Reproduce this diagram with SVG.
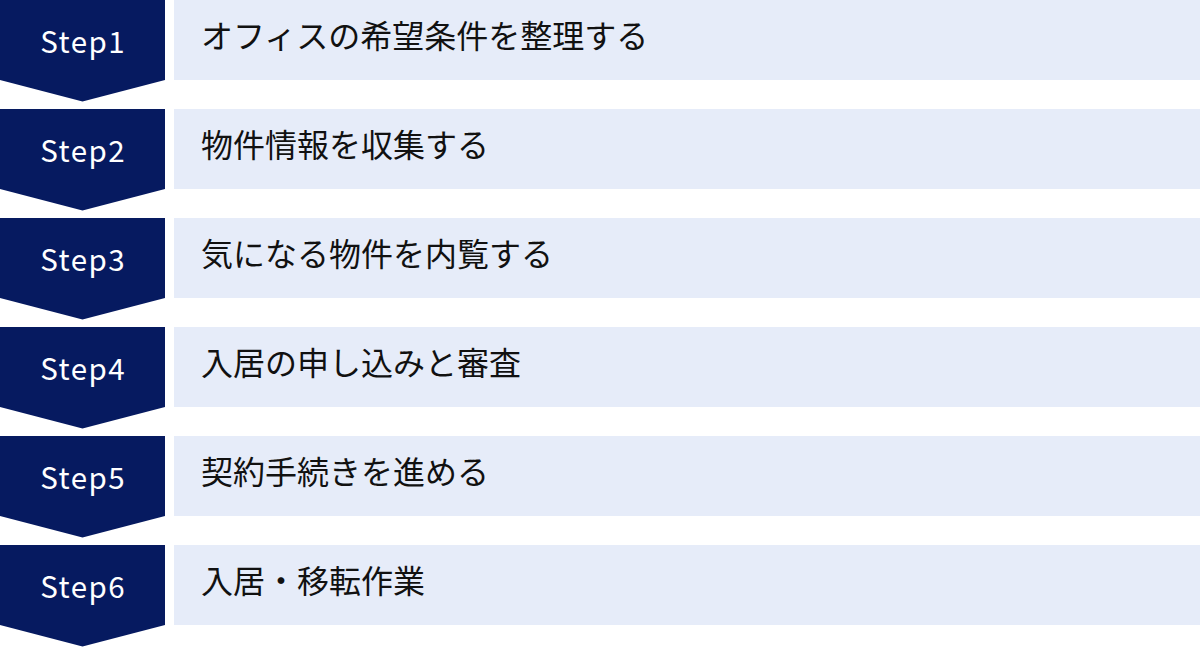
<svg xmlns="http://www.w3.org/2000/svg" width="1200" height="647" viewBox="0 0 1200 647">
  <defs>
    <style>
      .chev { fill: #061a60; }
      .bar { fill: #e6ecf9; }
      .step { font-family: "Noto Sans CJK JP", "Noto Sans", sans-serif; font-size: 29.5px; letter-spacing: 1.5px; fill: #ffffff; text-anchor: middle; }
      .label { font-family: "Noto Sans CJK JP", "Noto Sans", sans-serif; font-size: 32px; fill: #111111; }
    </style>
    <polygon id="chevron" points="0,0 165,0 165,80 82.5,101.5 0,80"/>
  </defs>
  <rect width="1200" height="647" fill="#ffffff"/>
  <g id="connectors"></g>
  <g id="step1" transform="translate(0,0)">
    <use href="#chevron" class="chev"/>
    <rect class="bar" x="174" y="0" width="1026" height="80"/>
    <text class="step" x="83.2" y="52.5">Step1</text>
    <text class="label" x="201" y="48">オフィスの希望条件を整理する</text>
  </g>
  <g id="step2" transform="translate(0,109)">
    <use href="#chevron" class="chev"/>
    <rect class="bar" x="174" y="0" width="1026" height="80"/>
    <text class="step" x="83.2" y="52.5">Step2</text>
    <text class="label" x="201" y="48">物件情報を収集する</text>
  </g>
  <g id="step3" transform="translate(0,218)">
    <use href="#chevron" class="chev"/>
    <rect class="bar" x="174" y="0" width="1026" height="80"/>
    <text class="step" x="83.2" y="52.5">Step3</text>
    <text class="label" x="201" y="48">気になる物件を内覧する</text>
  </g>
  <g id="step4" transform="translate(0,327)">
    <use href="#chevron" class="chev"/>
    <rect class="bar" x="174" y="0" width="1026" height="80"/>
    <text class="step" x="83.2" y="52.5">Step4</text>
    <text class="label" x="201" y="48">入居の申し込みと審査</text>
  </g>
  <g id="step5" transform="translate(0,436)">
    <use href="#chevron" class="chev"/>
    <rect class="bar" x="174" y="0" width="1026" height="80"/>
    <text class="step" x="83.2" y="52.5">Step5</text>
    <text class="label" x="201" y="48">契約手続きを進める</text>
  </g>
  <g id="step6" transform="translate(0,545)">
    <use href="#chevron" class="chev"/>
    <rect class="bar" x="174" y="0" width="1026" height="80"/>
    <text class="step" x="83.2" y="52.5">Step6</text>
    <text class="label" x="201" y="48">入居・移転作業</text>
  </g>
</svg>
